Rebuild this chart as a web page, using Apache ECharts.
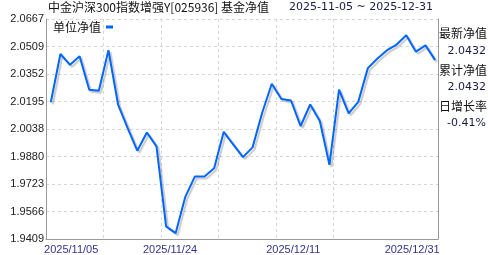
<!DOCTYPE html>
<html>
<head>
<meta charset="utf-8">
<script src="https://cdn.jsdelivr.net/npm/echarts@6/dist/echarts.min.js"></script>
<style>
html,body{margin:0;padding:0;background:#fff;}
#chart{width:488px;height:255px;}
</style>
</head>
<body>
<div id="chart"></div>
<script>
// ---- data ----
const titleText = '中金沪深300指数增强Y[025936] 基金净值';
const rangeText = '2025-11-05 ~ 2025-12-31';
const seriesName = '单位净值';
const dates = ['2025-11-05','2025-11-06','2025-11-07','2025-11-10','2025-11-11','2025-11-12','2025-11-13','2025-11-14',
  '2025-11-17','2025-11-18','2025-11-19','2025-11-20','2025-11-21','2025-11-24','2025-11-25','2025-11-26','2025-11-27','2025-11-28',
  '2025-12-01','2025-12-02','2025-12-03','2025-12-04','2025-12-05','2025-12-08','2025-12-09','2025-12-10','2025-12-11','2025-12-12',
  '2025-12-15','2025-12-16','2025-12-17','2025-12-18','2025-12-19','2025-12-22','2025-12-23','2025-12-24','2025-12-25','2025-12-26',
  '2025-12-29','2025-12-30','2025-12-31'];
const nav = [2.0191,2.0467,2.0405,2.0454,2.0263,2.0257,2.0489,2.0178,
  2.0043,1.9914,2.0018,1.9939,1.9481,1.9443,1.9650,1.9767,1.9767,1.9814,
  2.0022,1.9949,1.9877,1.9933,2.0131,2.0297,2.0210,2.0201,2.0055,2.0178,
  2.0084,1.9833,2.0263,2.0127,2.0193,2.0386,2.0441,2.0489,2.0521,2.0574,
  2.0480,2.0516,2.0432];
const yTickLabels = ['1.9409','1.9566','1.9723','1.9880','2.0038','2.0195','2.0352','2.0509','2.0667'];
const xTickLabels = ['2025/11/05','2025/11/24','2025/12/11','2025/12/31'];
const infoLabels = ['最新净值','累计净值','日增长率'];
const infoValues = ['2.0432','2.0432','-0.41%'];

// ---- layout / style config ----
const xLabelPos = [2.12, 12.41, 25.24, 37.61];      // label centres in day-index units
const xGridPos = [5.46, 11.54, 17.43, 23.44, 29.40]; // vertical dashed grid positions
const yTicks = yTickLabels.map(Number);

const chart = echarts.init(document.getElementById('chart'), null, {renderer:'canvas'});
const cjk = '"Noto Sans CJK SC", sans-serif';
const numFont = '"Liberation Sans", Arial, sans-serif';
const vFont = '"DejaVu Sans", Verdana, sans-serif';

const graphics = [
  {type:'text', left:48, top:1, style:{text:titleText, font:'12px '+cjk, fill:'#111'}},
  {type:'text', left:289, top:2, style:{text:rangeText, font:'11px '+vFont, fill:'#1a1a4a'}}
];
const infoTops = [27, 64, 100];
const valTops = [46, 82, 118];
infoLabels.forEach((t,i)=>{
  graphics.push({type:'text', left:439, top:infoTops[i], style:{text:t, font:'12px '+cjk, fill:'#111'}});
  graphics.push({type:'text', right:2, top:valTops[i], style:{text:infoValues[i], font:'11px '+vFont, fill:'#1a1a4a', align:'right'}});
});

const gridLine = {show:true, lineStyle:{color:'#d6d6d6', type:[3,3], width:1}};

chart.setOption({
  animation:false,
  backgroundColor:'#fff',
  grid:{left:46, right:50, top:19, bottom:14, containLabel:false},
  legend:{
    data:[seriesName], left:53, top:21, padding:0, align:'right',
    icon:'rect', itemWidth:7, itemHeight:3,
    textStyle:{fontSize:12, fontFamily:cjk, color:'#111', padding:[0,0,0,0]}
  },
  xAxis:{
    type:'value', min:-0.5, max:40.3,
    axisLine:{show:true, onZero:false, lineStyle:{color:'#999', width:1}},
    axisTick:{show:false, customValues:xGridPos},
    splitLine:gridLine,
    axisLabel:{
      customValues:xLabelPos, margin:5,
      fontSize:11, fontFamily:numFont, color:'#33338a',
      formatter:(v, i)=>{ const k = xLabelPos.indexOf(v); return k>=0 ? xTickLabels[k] : ''; }
    }
  },
  yAxis:[{
    type:'value', min:yTicks[0], max:yTicks[yTicks.length-1],
    axisLine:{show:true, onZero:false, lineStyle:{color:'#999', width:1}},
    axisTick:{show:false, customValues:yTicks},
    splitLine:gridLine,
    axisLabel:{
      customValues:yTicks, margin:2,
      fontSize:11, fontFamily:numFont, color:'#222',
      formatter:(v)=>{ const k = yTicks.indexOf(v); return k>=0 ? yTickLabels[k] : ''; }
    }
  },{
    type:'value', position:'right', min:0, max:1,
    axisLine:{show:true, onZero:false, lineStyle:{color:'#999', width:1}},
    axisTick:{show:false}, axisLabel:{show:false}, splitLine:{show:false}
  }],
  series:[{
    name:seriesName, type:'line', yAxisIndex:0,
    data:nav.map((v,i)=>[i,v]),
    showSymbol:false, symbol:'none',
    itemStyle:{color:'#0066ff'},
    lineStyle:{color:'#0066ff', width:2, shadowColor:'rgba(0,0,0,0.22)', shadowBlur:1, shadowOffsetX:2, shadowOffsetY:2}
  }],
  graphic:graphics
});
</script>
</body>
</html>
